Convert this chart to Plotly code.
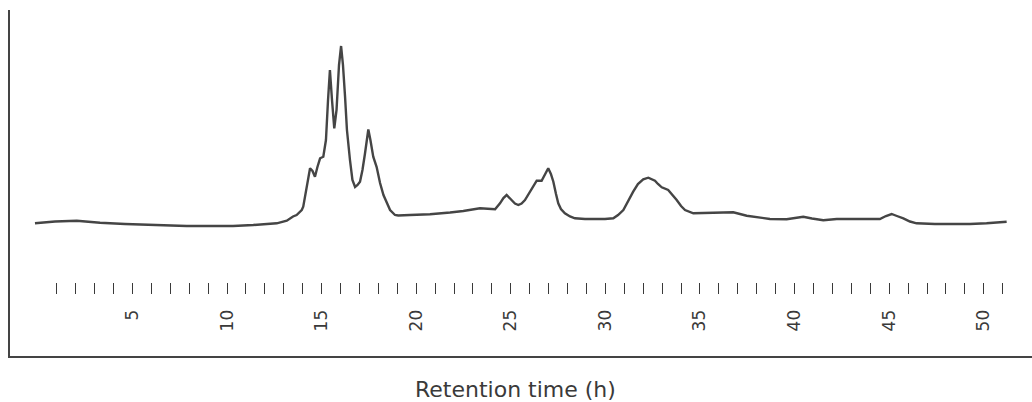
import plotly.graph_objects as go

# Retention time (h)
time_h = [
    -0.15, 0.91, 2.06, 3.29, 4.61, 6.10, 7.87, 9.10, 10.32, 11.39, 12.63, 13.16, 13.49,
    13.68, 13.95, 14.03, 14.21, 14.30, 14.39, 14.52, 14.65, 14.78, 14.92, 15.09, 15.23,
    15.34, 15.44, 15.55, 15.67, 15.79, 15.92, 16.03, 16.13, 16.24, 16.34, 16.50, 16.63,
    16.77, 16.90, 17.03, 17.16, 17.29, 17.47, 17.58, 17.73, 17.91, 18.09, 18.27, 18.44,
    18.62, 18.88, 19.05, 19.67, 20.73, 21.79, 22.49, 23.37, 23.90, 24.17, 24.43, 24.61,
    24.78, 24.90, 25.05, 25.22, 25.40, 25.57, 25.75, 25.94, 26.10, 26.23, 26.37, 26.63,
    26.81, 26.98, 27.12, 27.25, 27.39, 27.51, 27.65, 27.86, 28.13, 28.39, 28.92, 29.54,
    29.98, 30.42, 30.67, 30.95, 31.19, 31.47, 31.72, 32.00, 32.27, 32.46, 32.62, 32.78,
    32.98, 33.32, 33.52, 33.77, 34.00, 34.21, 34.65, 35.70, 36.50, 36.76, 37.47, 38.70,
    39.58, 40.46, 40.92, 41.52, 42.23, 43.46, 44.51, 44.83, 45.13, 45.41, 45.75, 46.10,
    46.45, 47.42, 48.39, 49.27, 50.15, 50.86, 51.21,
]

# Detector signal (arbitrary units)
signal = [
    132.7, 134.5, 135.3, 133.3, 132.0, 131.0, 130.0, 130.0, 130.0, 131.0, 132.7, 135.3, 139.5,
    141.0, 146.0, 149.3, 168.0, 179.0, 187.7, 185.0, 179.3, 189.0, 197.7, 199.3, 216.0,
    256.0, 286.0, 256.0, 227.7, 246.0, 291.0, 310.0, 291.0, 259.3, 226.0, 196.0, 176.0,
    169.0, 171.0, 174.3, 186.0, 202.0, 226.5, 216.0, 199.3, 189.0, 173.0, 161.0, 152.7,
    146.0, 141.0, 140.5, 141.0, 141.7, 143.5, 145.0, 147.7, 146.7, 146.7, 152.7, 158.0,
    161.0, 158.5, 156.0, 152.5, 151.0, 152.5, 156.0, 162.0, 167.7, 172.0, 175.3, 175.3,
    182.0, 187.7, 182.0, 174.3, 162.0, 152.7, 147.0, 142.7, 139.5, 137.7, 137.0, 136.7,
    137.0, 137.7, 141.0, 146.0, 155.0, 164.3, 172.0, 176.7, 178.3, 177.0, 175.3, 172.0,
    168.7, 166.0, 162.0, 156.0, 150.0, 146.0, 142.7, 143.3, 144.3, 143.7, 140.3, 137.0,
    136.7, 139.3, 137.5, 135.7, 137.0, 137.0, 137.0, 140.0, 142.0, 140.0, 137.7, 134.5,
    132.7, 132.0, 131.7, 132.0, 132.7, 133.7, 134.3,
]

tick_values = list(range(1, 52))
tick_labels = [str(v) if v % 5 == 0 else "" for v in tick_values]

x_range = [-1.47, 52.55]
y_range = [0, 346]

fig = go.Figure()
fig.add_trace(go.Scatter(
    x=time_h, y=signal, mode="lines",
    line=dict(color="#454545", width=2.4),
    hoverinfo="skip", showlegend=False,
))
# invisible trace on the tick axis so it renders
fig.add_trace(go.Scatter(
    x=[x_range[0], x_range[1]], y=[0, 0], mode="lines",
    line=dict(width=0), xaxis="x2", yaxis="y",
    hoverinfo="skip", showlegend=False,
))

fig.update_layout(
    width=1032, height=402,
    margin=dict(l=10, r=0, t=10, b=46, autoexpand=False),
    paper_bgcolor="white", plot_bgcolor="white",
    xaxis=dict(
        range=x_range, showgrid=False, zeroline=False,
        showline=True, linecolor="#444444", linewidth=1.6,
        ticks="", showticklabels=False,
    ),
    xaxis2=dict(
        range=x_range, overlaying="x", anchor="free", position=(356 - 282) / 346,
        side="bottom", showgrid=False, zeroline=False, showline=False,
        tickmode="array", tickvals=tick_values, ticktext=tick_labels,
        ticks="outside", ticklen=11, tickwidth=1, tickcolor="#3a3a3a",
        tickangle=-90, ticklabelstandoff=9,
        tickfont=dict(family="DejaVu Sans", size=17, color="#3a3a3a"),
    ),
    yaxis=dict(
        range=y_range, showgrid=False, zeroline=False,
        showline=True, linecolor="#444444", linewidth=1.6,
        ticks="", showticklabels=False,
    ),
    annotations=[dict(
        text="Retention time (h)", xref="paper", yref="paper",
        x=(515 - 10) / 1022, y=-(389 - 356) / 346, xanchor="center", yanchor="middle",
        showarrow=False,
        font=dict(family="DejaVu Sans", size=22, color="#3a3a3a"),
    )],
)

fig.write_html(
    "out.html",
    config={"displayModeBar": False, "staticPlot": True},
    post_script="document.body.style.margin='0';document.body.style.overflow='hidden';",
)
